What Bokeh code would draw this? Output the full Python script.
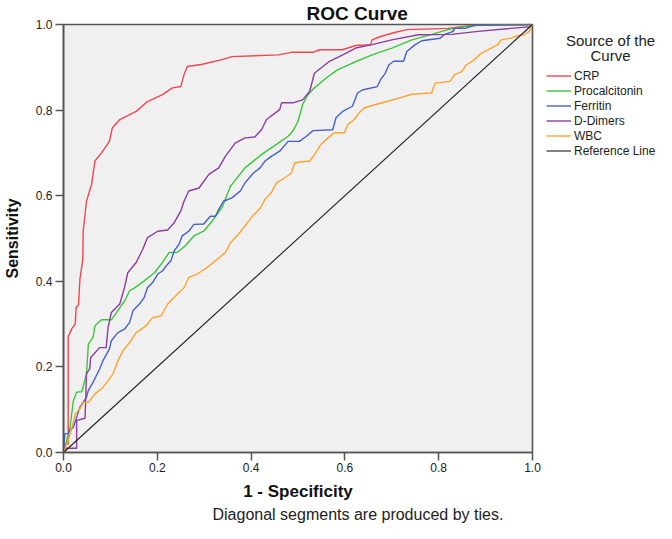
import math
from bokeh.plotting import figure
from bokeh.layouts import row
from bokeh.models import Range1d, FixedTicker, Label, Legend, LegendItem, Title
from bokeh.embed import file_html
from bokeh.resources import INLINE

# ---------------- data ----------------
tick_values = [0.0, 0.2, 0.4, 0.6, 0.8, 1.0]
tick_labels = ["0.0", "0.2", "0.4", "0.6", "0.8", "1.0"]

series_names = ["CRP", "Procalcitonin", "Ferritin", "D-Dimers", "WBC", "Reference Line"]

crp_x = [0.0, 0.003, 0.010, 0.010, 0.018, 0.025, 0.027, 0.032, 0.035, 0.041, 0.042, 0.049,
         0.060, 0.067, 0.081, 0.098, 0.104, 0.120, 0.155, 0.179, 0.211, 0.232, 0.250, 0.257,
         0.264, 0.296, 0.338, 0.359, 0.458, 0.486, 0.532, 0.546, 0.595, 0.623, 0.655, 0.658,
         0.676, 0.708, 0.732, 0.820, 0.870, 1.0]
crp_y = [0.0, 0.020, 0.020, 0.270, 0.290, 0.300, 0.339, 0.345, 0.405, 0.450, 0.517, 0.587,
         0.627, 0.681, 0.700, 0.727, 0.758, 0.778, 0.797, 0.820, 0.836, 0.852, 0.855, 0.883,
         0.902, 0.907, 0.918, 0.925, 0.929, 0.935, 0.935, 0.941, 0.941, 0.951, 0.953, 0.964,
         0.972, 0.982, 0.988, 0.991, 0.998, 1.0]

pct_x = [0.0, 0.005, 0.014, 0.021, 0.028, 0.039, 0.049, 0.053, 0.063, 0.067, 0.081, 0.102,
         0.113, 0.130, 0.141, 0.151, 0.172, 0.194, 0.211, 0.225, 0.243, 0.260, 0.278, 0.299,
         0.317, 0.327, 0.338, 0.356, 0.387, 0.422, 0.458, 0.479, 0.489, 0.500, 0.510, 0.521,
         0.535, 0.560, 0.584, 0.616, 0.658, 0.700, 0.743, 0.785, 0.820, 0.856, 0.884, 1.0]
pct_y = [0.0, 0.020, 0.059, 0.121, 0.141, 0.142, 0.183, 0.253, 0.269, 0.296, 0.310, 0.310,
         0.327, 0.354, 0.378, 0.384, 0.401, 0.420, 0.444, 0.467, 0.468, 0.483, 0.506, 0.517,
         0.541, 0.556, 0.572, 0.622, 0.665, 0.696, 0.723, 0.739, 0.751, 0.774, 0.813, 0.836,
         0.852, 0.875, 0.894, 0.910, 0.929, 0.945, 0.964, 0.977, 0.988, 0.995, 0.998, 1.0]

fer_x = [0.0, 0.003, 0.010, 0.012, 0.021, 0.028, 0.035, 0.049, 0.053, 0.063, 0.077, 0.084,
         0.098, 0.102, 0.116, 0.130, 0.141, 0.148, 0.162, 0.172, 0.179, 0.190, 0.201, 0.211,
         0.222, 0.229, 0.236, 0.246, 0.253, 0.267, 0.278, 0.299, 0.313, 0.324, 0.331, 0.341,
         0.359, 0.377, 0.387, 0.405, 0.419, 0.430, 0.443, 0.461, 0.479, 0.503, 0.518, 0.532,
         0.574, 0.581, 0.595, 0.616, 0.627, 0.637, 0.669, 0.676, 0.686, 0.694, 0.704, 0.725,
         0.732, 0.750, 0.764, 0.803, 0.813, 0.831, 0.834, 0.856, 0.877, 1.0]
fer_y = [0.0, 0.044, 0.044, 0.050, 0.059, 0.082, 0.106, 0.129, 0.145, 0.164, 0.195, 0.214,
         0.242, 0.261, 0.280, 0.288, 0.304, 0.331, 0.347, 0.362, 0.385, 0.397, 0.417, 0.424,
         0.440, 0.448, 0.471, 0.486, 0.506, 0.517, 0.533, 0.534, 0.552, 0.552, 0.568, 0.587,
         0.595, 0.611, 0.630, 0.653, 0.665, 0.681, 0.692, 0.704, 0.727, 0.727, 0.739, 0.752,
         0.754, 0.782, 0.797, 0.809, 0.840, 0.847, 0.855, 0.871, 0.886, 0.906, 0.914, 0.914,
         0.937, 0.953, 0.962, 0.968, 0.977, 0.984, 0.991, 0.991, 0.998, 1.0]

ddim_x = [0.0, 0.005, 0.028, 0.028, 0.046, 0.049, 0.056, 0.058, 0.077, 0.091, 0.095, 0.102,
          0.120, 0.130, 0.137, 0.155, 0.169, 0.179, 0.201, 0.222, 0.236, 0.250, 0.257, 0.267,
          0.289, 0.310, 0.331, 0.345, 0.366, 0.387, 0.408, 0.422, 0.433, 0.461, 0.465, 0.489,
          0.510, 0.525, 0.535, 0.553, 0.567, 0.588, 0.623, 0.658, 0.700, 0.757, 0.827, 0.884,
          0.996, 1.0]
ddim_y = [0.0, 0.010, 0.010, 0.075, 0.080, 0.184, 0.196, 0.222, 0.245, 0.245, 0.292, 0.327,
          0.347, 0.385, 0.420, 0.444, 0.475, 0.502, 0.517, 0.520, 0.537, 0.564, 0.587, 0.611,
          0.618, 0.650, 0.665, 0.692, 0.723, 0.735, 0.737, 0.754, 0.778, 0.801, 0.817, 0.817,
          0.824, 0.844, 0.886, 0.902, 0.914, 0.925, 0.945, 0.953, 0.964, 0.976, 0.977, 0.984,
          0.995, 1.0]

wbc_x = [0.0, 0.010, 0.018, 0.025, 0.035, 0.042, 0.053, 0.067, 0.084, 0.095, 0.105, 0.116,
         0.127, 0.141, 0.155, 0.176, 0.190, 0.208, 0.222, 0.239, 0.257, 0.267, 0.285, 0.306,
         0.327, 0.345, 0.356, 0.373, 0.391, 0.401, 0.419, 0.430, 0.443, 0.454, 0.472, 0.486,
         0.493, 0.525, 0.535, 0.549, 0.560, 0.577, 0.599, 0.606, 0.620, 0.630, 0.641, 0.665,
         0.690, 0.715, 0.743, 0.785, 0.792, 0.824, 0.834, 0.849, 0.859, 0.873, 0.891, 0.912,
         0.926, 0.933, 0.954, 0.968, 0.982, 0.993, 1.0]
wbc_y = [0.0, 0.028, 0.059, 0.090, 0.102, 0.117, 0.117, 0.137, 0.152, 0.168, 0.183, 0.214,
         0.238, 0.257, 0.280, 0.296, 0.315, 0.319, 0.347, 0.366, 0.385, 0.409, 0.417, 0.432,
         0.451, 0.467, 0.490, 0.510, 0.535, 0.550, 0.570, 0.592, 0.607, 0.630, 0.642, 0.653,
         0.677, 0.681, 0.696, 0.720, 0.731, 0.747, 0.747, 0.766, 0.778, 0.793, 0.805, 0.813,
         0.820, 0.828, 0.837, 0.840, 0.863, 0.867, 0.883, 0.890, 0.906, 0.915, 0.933, 0.945,
         0.953, 0.964, 0.968, 0.974, 0.976, 0.984, 1.0]

ref_x = [0.0, 1.0]
ref_y = [0.0, 1.0]

series_colors = ["#F2454F", "#3CC43C", "#4760C8", "#8C3DA0", "#FFA22E", "#1E1E1E"]

FONT = "Liberation Sans"

# ---------------- main figure ----------------
p = figure(width=542, height=523, output_backend="svg", toolbar_location=None,
           x_range=Range1d(0, 1), y_range=Range1d(0, 1),
           min_border_left=58, min_border_right=10, min_border_top=23, min_border_bottom=71)
p.title.text = "ROC Curve"
p.title.align = "left"
p.title.offset = 243
p.title.standoff = 1
p.title.text_font = FONT
p.title.text_font_size = "19px"
p.title.text_font_style = "bold"
p.title.text_color = "#111111"

p.background_fill_color = "#F0F0F0"
p.border_fill_color = "white"
p.outline_line_color = "#555555"
p.outline_line_width = 1.6
p.xgrid.visible = False
p.ygrid.visible = False

for ax in (p.xaxis[0], p.yaxis[0]):
    ax.ticker = FixedTicker(ticks=tick_values)
    ax.major_label_overrides = {v: l for v, l in zip(tick_values, tick_labels)}
    ax.minor_tick_line_color = None
    ax.major_tick_out = 8
    ax.major_tick_in = 0
    ax.major_tick_line_color = "#555555"
    ax.major_tick_line_width = 1.5
    ax.axis_line_color = "#555555"
    ax.axis_line_width = 1.6
    ax.major_label_text_font = FONT
    ax.major_label_text_font_size = "12px"
    ax.major_label_text_color = "#222222"
    ax.axis_label_text_font = FONT
    ax.axis_label_text_font_style = "bold"
    ax.axis_label_text_color = "#111111"

p.xaxis.major_label_standoff = 2
p.yaxis.major_label_standoff = 3
p.xaxis.axis_label = "1 - Specificity"
p.xaxis.axis_label_text_font_size = "17px"
p.xaxis.axis_label_standoff = 7
p.yaxis.axis_label = "Sensitivity"
p.yaxis.axis_label_text_font_size = "16px"
p.yaxis.axis_label_standoff = 12

p.add_layout(Title(text="Diagonal segments are produced by ties.", align="left", offset=149,
                   standoff=1, text_font=FONT, text_font_size="16px",
                   text_font_style="normal", text_color="#222222"), "below")

xs = [crp_x, pct_x, fer_x, ddim_x, wbc_x, ref_x]
ys = [crp_y, pct_y, fer_y, ddim_y, wbc_y, ref_y]
for xv, yv, c, name in zip(xs, ys, series_colors, series_names):
    lw = 1.1 if name == "Reference Line" else 1.4
    p.line(xv, yv, line_color=c, line_width=lw)

# ---------------- legend panel (its frame lines up with the main frame: y 23..452) ----------------
q = figure(width=114, height=523, output_backend="svg", toolbar_location=None,
           x_range=Range1d(0, 114), y_range=Range1d(452, 23),
           x_axis_type=None, y_axis_type=None,
           min_border_left=0, min_border_right=0, min_border_top=0, min_border_bottom=0)
q.title.visible = False
q.outline_line_color = None
q.background_fill_color = "white"
q.border_fill_color = "white"
q.xgrid.visible = False
q.ygrid.visible = False

legend_items = []
for c, name in zip(series_colors, series_names):
    lw = 1.1 if name == "Reference Line" else 1.4
    # legend-only renderer: a single undefined point, nothing is drawn in the frame
    r = q.line(x=[math.nan], y=[math.nan], line_color=c, line_width=lw)
    legend_items.append(LegendItem(label=name, renderers=[r]))

legend = Legend(items=legend_items, location=(4, 294), padding=0, spacing=0, margin=0,
                label_height=15, glyph_height=15, glyph_width=25, label_standoff=3,
                label_text_font=FONT, label_text_font_size="12px", label_text_color="#222222",
                border_line_alpha=0, background_fill_alpha=0)
q.add_layout(legend, "center")

q.add_layout(Label(x=68, y=39, text="Source of the", text_font=FONT, text_font_size="15px",
                   text_align="center", text_baseline="middle", text_color="#222222"))
q.add_layout(Label(x=68, y=54, text="Curve", text_font=FONT, text_font_size="15px",
                   text_align="center", text_baseline="middle", text_color="#222222"))

layout = row(p, q)
open("out.html", "w").write(file_html(layout, INLINE))
